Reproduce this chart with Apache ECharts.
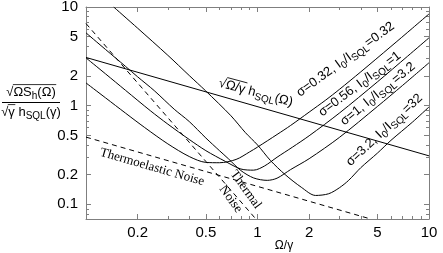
<!DOCTYPE html>
<html><head><meta charset="utf-8">
<script src="https://cdn.jsdelivr.net/npm/echarts@6/dist/echarts.min.js"></script>
<style>html,body{margin:0;padding:0;background:#fff}#c{width:443px;height:253px}</style>
</head><body><div id="c"></div>
<script>
// ---- tick values ----
const xMajor = [0.2, 0.5, 1, 2, 5, 10];
const yMajor = [0.1, 0.2, 0.5, 1, 2, 5, 10];
const xMinor = [0.3, 0.4, 0.6, 0.7, 0.8, 0.9, 3, 4, 6, 7, 8, 9];
const yMinor = [0.08, 0.09, 0.3, 0.4, 0.6, 0.7, 0.8, 0.9, 3, 4, 6, 7, 8, 9];

// ---- series values ----
const sqlX = [0.1, 10];
const sqlY = [3.08, 0.31];
const thermalX = [0.1, 0.2, 0.5, 0.978];
const thermalY = [6.8, 1.7, 0.272, 0.071];
const teX = [0.1, 1, 4.57];
const teY = [0.48, 0.152, 0.071];

const c1X = [0.1, 0.13, 0.17, 0.22, 0.3, 0.4, 0.5, 0.6, 0.75, 0.9, 1.0, 1.3, 1.56, 2.0, 2.5, 3, 4, 6, 8, 10];
const c1Y = [1.70, 1.20, 0.84, 0.60, 0.41, 0.305, 0.266, 0.264, 0.285, 0.34, 0.38, 0.51, 0.63, 0.86, 1.14, 1.46, 2.2, 3.98, 6.09, 8.5];

const c2X = [0.1, 0.13, 0.17, 0.237, 0.3, 0.4, 0.5, 0.65, 0.8, 0.95, 1.1, 1.3, 1.6, 2.0, 3, 5, 7.5, 10];
const c2Y = [3.05, 2.10, 1.43, 0.89, 0.65, 0.454, 0.35, 0.272, 0.228, 0.222, 0.245, 0.30, 0.38, 0.495, 0.84, 1.74, 3.17, 4.87];

const c3X = [0.1, 0.13, 0.17, 0.2, 0.25, 0.327, 0.4, 0.5, 0.6, 0.676, 0.8, 0.95, 1.14, 1.3, 1.56, 2, 3, 5, 7, 10];
const c3Y = [5.47, 3.71, 2.5, 1.96, 1.42, 0.92, 0.69, 0.47, 0.35, 0.29, 0.22, 0.185, 0.175, 0.184, 0.225, 0.29, 0.476, 0.98, 1.6, 2.72];

const c4X = [0.145, 0.2, 0.3, 0.4, 0.497, 0.7, 0.85, 1.0, 1.19, 1.45, 1.8, 2.18, 2.6, 3.0, 3.4, 4, 5, 6, 8, 10];
const c4Y = [10.0, 6.1, 3.24, 2.02, 1.42, 0.79, 0.533, 0.40, 0.278, 0.20, 0.149, 0.123, 0.128, 0.147, 0.175, 0.235, 0.33, 0.445, 0.68, 0.97];

function pairs(xs, ys) { return xs.map((x, i) => [x, ys[i]]); }

const AX = '#7f7f7f';
const FAM = '"Liberation Sans", Arial, Helvetica, sans-serif';
const SERIF = '"Liberation Serif", "Times New Roman", serif';
const fmt = v => String(parseFloat(Number(v).toPrecision(3)));

function mkAxis(kind, pos, ticks, len, showLine, labels) {
  return {
    type: 'log', logBase: 10, position: pos,
    min: kind === 'x' ? 0.1 : 0.071, max: 10,
    axisLine: { show: showLine, onZero: false, lineStyle: { color: AX, width: 1 } },
    axisTick: { show: true, inside: true, length: len, customValues: ticks, lineStyle: { color: AX, width: 1 } },
    axisLabel: labels ? { show: true, customValues: labels, formatter: fmt, color: '#000', fontSize: 15, fontFamily: FAM, margin: kind === 'x' ? 6 : 8 } : { show: false },
    splitLine: { show: false }, minorTick: { show: false }, minorSplitLine: { show: false }
  };
}

const lineS = (data, dashed, smooth) => ({
  type: 'line', data, showSymbol: false, symbol: 'none', smooth: smooth || false, silent: true,
  animation: false, clip: true,
  lineStyle: { color: '#000', width: 1, type: dashed ? [5, 4] : 'solid' }
});

// ---- rich label builder: parts = [text, isSubscript, isOverlined] ----
const cv = document.createElement('canvas').getContext('2d');
function tw(t, size, fam) { cv.font = size + 'px ' + fam; return cv.measureText(t).width; }
function richLabel(parts, o) {
  const fam = o.fam || FAM, fs = o.fs, ss = o.ss || Math.round(fs * 0.75), sd = o.sd || 4;
  let cx = 0; const kids = []; let ox1 = null, ox2 = null;
  parts.forEach(p => {
    const sub = !!p[1], size = sub ? ss : fs;
    const w = tw(p[0], size, fam);
    kids.push({ type: 'text', x: cx, y: sub ? sd : 0, silent: true,
      style: { text: p[0], font: size + 'px ' + fam, fill: '#000', align: 'left', verticalAlign: 'middle' } });
    if (p[2]) { if (ox1 === null) ox1 = cx; ox2 = cx + w; }
    cx += w;
  });
  if (ox1 !== null) kids.push({ type: 'line', silent: true, shape: { x1: ox1 - 0.5, y1: -fs * 0.57, x2: ox2 + 0.5, y2: -fs * 0.57 }, style: { stroke: '#000', lineWidth: 0.8 } });
  const dx = o.center ? -cx / 2 : 0;
  kids.forEach(k => { if (k.type === 'text') k.x += dx; else { k.shape.x1 += dx; k.shape.x2 += dx; } });
  return { type: 'group', x: o.x, y: o.y, rotation: (o.rot || 0) * Math.PI / 180, children: kids, silent: true };
}

const graphics = [
  // y-axis title (fraction)
  richLabel([['√'], ['ΩS', 0, 1], ['h', 1, 1], ['(Ω)', 0, 1]], { x: 31, y: 92, fs: 13, ss: 10, center: true }),
  { type: 'line', silent: true, shape: { x1: 2, y1: 102.5, x2: 60, y2: 102.5 }, style: { stroke: '#000', lineWidth: 1 } },
  richLabel([['√'], ['γ', 0, 1], [' h'], ['SQL', 1], ['(γ)']], { x: 31, y: 112, fs: 13, ss: 10, center: true }),
  // x-axis title
  { type: 'text', x: 284, y: 246, silent: true, style: { text: 'Ω/γ', font: '12px ' + FAM, fill: '#000', align: 'center', verticalAlign: 'middle' } },
  // SQL label
  richLabel([['√'], ['Ω/γ', 0, 1], [' h'], ['SQL', 1], ['(Ω)']], { x: 219, y: 83, fs: 13, ss: 10, rot: -15 }),
  // sigma labels
  richLabel([['σ=0.32, I'], ['0', 1], ['/I'], ['SQL', 1], ['=0.32']], { x: 298, y: 94, fs: 13, ss: 10, rot: 36 }),
  richLabel([['σ=0.56, I'], ['0', 1], ['/I'], ['SQL', 1], ['=1']], { x: 320, y: 114, fs: 13, ss: 10, rot: 37 }),
  richLabel([['σ=1, I'], ['0', 1], ['/I'], ['SQL', 1], ['=3.2']], { x: 342, y: 123, fs: 13, ss: 10, rot: 39 }),
  richLabel([['σ=3.2, I'], ['0', 1], ['/I'], ['SQL', 1], ['=32']], { x: 348, y: 164, fs: 13, ss: 10, rot: 43 }),
  // noise labels
  { type: 'text', x: 102, y: 146, rotation: -16 * Math.PI / 180, silent: true, style: { text: 'Thermoelastic Noise', font: '13px ' + SERIF, fill: '#000', align: 'left', verticalAlign: 'top' } },
  { type: 'text', x: 238, y: 168, rotation: -54 * Math.PI / 180, silent: true, style: { text: 'Thermal', font: '13px ' + SERIF, fill: '#000', align: 'left', verticalAlign: 'top' } },
  { type: 'text', x: 227, y: 183, rotation: -54 * Math.PI / 180, silent: true, style: { text: 'Noise', font: '13px ' + SERIF, fill: '#000', align: 'left', verticalAlign: 'top' } }
];

const chart = echarts.init(document.getElementById('c'), null, { renderer: 'canvas', width: 443, height: 253 });
chart.setOption({
  animation: false,
  backgroundColor: '#fff',
  grid: { left: 86, right: 14, top: 7, bottom: 34, containLabel: false, outerBoundsMode: 'none' },
  xAxis: [
    mkAxis('x', 'bottom', xMajor, 5, true, xMajor),
    mkAxis('x', 'bottom', xMinor, 3, false, null),
    mkAxis('x', 'top', xMajor, 5, true, null),
    mkAxis('x', 'top', xMinor, 3, false, null)
  ],
  yAxis: [
    mkAxis('y', 'left', yMajor, 5, true, yMajor),
    mkAxis('y', 'left', yMinor, 3, false, null),
    mkAxis('y', 'right', yMajor, 5, true, null),
    mkAxis('y', 'right', yMinor, 3, false, null)
  ],
  series: [
    lineS(pairs(sqlX, sqlY), false),
    lineS(pairs(thermalX, thermalY), true),
    lineS(pairs(teX, teY), true),
    lineS(pairs(c1X, c1Y), false, 0.3),
    lineS(pairs(c2X, c2Y), false, 0.3),
    lineS(pairs(c3X, c3Y), false, 0.3),
    lineS(pairs(c4X, c4Y), false, 0.3)
  ],
  graphic: graphics
});
</script></body></html>
